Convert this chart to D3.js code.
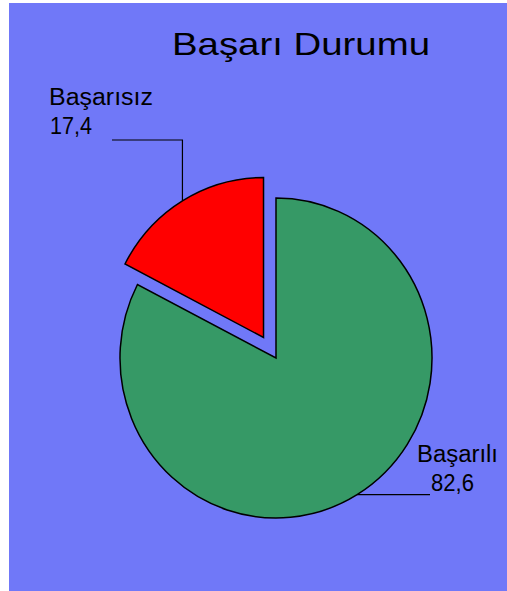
<!DOCTYPE html>
<html>
<head>
<meta charset="utf-8">
<script src="https://cdn.jsdelivr.net/npm/d3@7"></script>
<style>
  html, body { margin: 0; padding: 0; background: #fff; }
  svg { display: block; }
  text { font-family: "Liberation Sans", Arial, sans-serif; fill: #000; }
</style>
</head>
<body>
<svg id="chart"></svg>
<script>
// chart data
const categories = ['Başarılı', 'Başarısız'];
const values = [82.6, 17.4];
const valueLabels = ['82,6', '17,4'];
const colors = ['#369966', '#ff0000'];
const title = 'Başarı Durumu';

const W = 507, H = 591;
const svg = d3.select('#chart').attr('width', W).attr('height', H);

// plot area background
svg.append('rect')
  .attr('x', 9).attr('y', 3)
  .attr('width', W - 9).attr('height', H - 3)
  .attr('fill', '#7078f8');

svg.append('text')
  .attr('x', 172).attr('y', 55)
  .attr('font-size', 32)
  .attr('textLength', 258)
  .attr('lengthAdjust', 'spacingAndGlyphs')
  .text(title);

const cx = 276, cy = 358, R = 160, sx = 0.975;
const explode = 24;

const pie = d3.pie().sort(null).value(d => d);
const arcs = pie(values);
const arc = d3.arc().innerRadius(0).outerRadius(R);

// point on the (slightly squeezed) ellipse for an angle measured clockwise from 12 o'clock
function onArc(a, r, ox, oy) {
  return [ox + r * sx * Math.sin(a), oy - r * Math.cos(a)];
}

const gPie = svg.append('g');
arcs.forEach((d, i) => {
  const mid = (d.startAngle + d.endAngle) / 2;
  const off = i === 1 ? explode : 0;
  const ox = cx + off * Math.sin(mid);
  const oy = cy - off * Math.cos(mid);
  d.ox = ox; d.oy = oy; d.mid = mid;
  gPie.append('path')
    .attr('d', arc(d))
    .attr('transform', `translate(${ox},${oy}) scale(${sx},1)`)
    .attr('fill', colors[i])
    .attr('stroke', '#000')
    .attr('stroke-width', 1.5)
    .attr('vector-effect', 'non-scaling-stroke')
    .attr('stroke-linejoin', 'miter');
});

// leader lines + labels
const gLab = svg.append('g');

// Başarılı
{
  const d = arcs[0];
  const [px, py] = onArc(d.mid, R, d.ox, d.oy);
  gLab.append('path')
    .attr('d', `M${px},${py}H430`)
    .attr('fill', 'none').attr('stroke', '#000').attr('stroke-width', 1.2);
  gLab.append('text').attr('x', 417).attr('y', 462).attr('font-size', 23)
    .attr('textLength', 81).attr('lengthAdjust', 'spacingAndGlyphs')
    .text(categories[0]);
  gLab.append('text').attr('x', 431).attr('y', 491).attr('font-size', 23)
    .attr('textLength', 43).attr('lengthAdjust', 'spacingAndGlyphs')
    .text(valueLabels[0]);
}

// Başarısız
{
  const d = arcs[1];
  const [px, py] = onArc(d.mid, R, d.ox, d.oy);
  gLab.append('path')
    .attr('d', `M${px},${py}V140H112`)
    .attr('fill', 'none').attr('stroke', '#000').attr('stroke-width', 1.2);
  gLab.append('text').attr('x', 49).attr('y', 105).attr('font-size', 23)
    .attr('textLength', 104).attr('lengthAdjust', 'spacingAndGlyphs')
    .text(categories[1]);
  gLab.append('text').attr('x', 50).attr('y', 134).attr('font-size', 23)
    .attr('textLength', 42).attr('lengthAdjust', 'spacingAndGlyphs')
    .text(valueLabels[1]);
}
</script>
</body>
</html>
